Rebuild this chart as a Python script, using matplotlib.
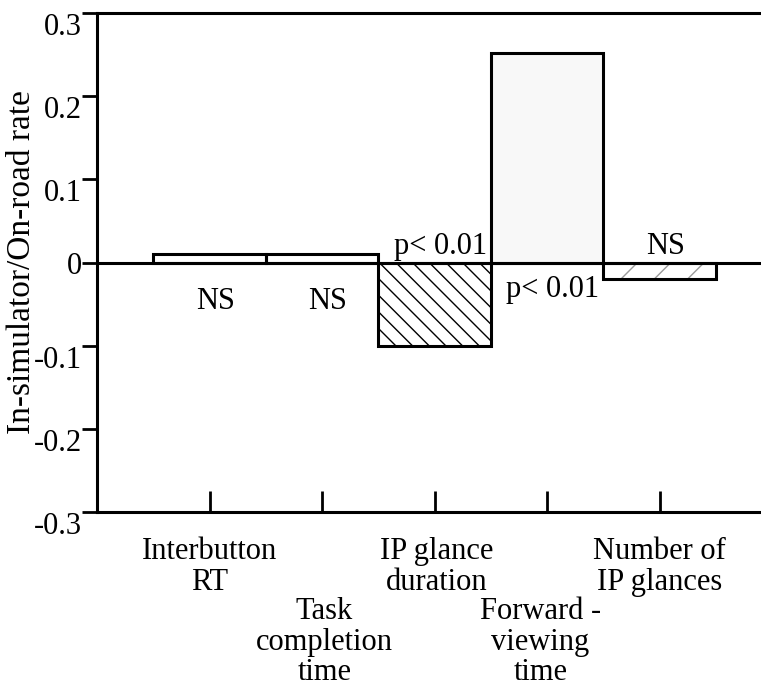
import matplotlib
matplotlib.use("Agg")
import matplotlib.pyplot as plt

plt.rcParams['font.family'] = ['Liberation Serif', 'DejaVu Serif']
plt.rcParams['hatch.linewidth'] = 1.0

# data
categories = ["Interbutton\nRT", "Task\ncompletion\ntime", "IP glance\nduration",
              "Forward -\nviewing\ntime", "Number of\nIP glances"]
rates = [0.01, 0.01, -0.10, 0.252, -0.02]
notes = ["NS", "NS", "p< 0.01", "p< 0.01", "NS"]
note_y = [-0.047, -0.047, 0.002, -0.033, 0.002]
note_va = ["center", "center", "bottom", "center", "bottom"]
y_ticks = [0.3, 0.2, 0.1, 0, -0.1, -0.2, -0.3]
y_tick_labels = ["0.3", "0.2", "0.1", "0", "-0.1", "-0.2", "-0.3"]

fills = ["white", "white", "white", "#f8f8f8", "white"]
hatches = [None, None, "\\\\", None, "/"]
hatch_cols = ["black", "black", "black", "black", "#9a9a9a"]
label_dx = [0, 0.02, 0.02, -0.06, 0]

fig = plt.figure(figsize=(7.61, 6.86), dpi=100)
ax = fig.add_axes([0.1275, 0.2536, 0.8725, 0.7274])

x = list(range(len(rates)))
lw = 2.2

# fills + hatch first, outlines on top
for i, v in enumerate(rates):
    ax.bar(i, v, width=1.0, color=fills[i], edgecolor=hatch_cols[i],
           hatch=hatches[i], linewidth=0, zorder=2)
ax.bar(x, rates, width=1.0, fill=False, edgecolor="black", linewidth=lw, zorder=3)
ax.axhline(0, color="black", linewidth=lw, zorder=4)

ax.set_xlim(-1, 4.9)
ax.set_ylim(-0.3, 0.3)

ax.spines['right'].set_visible(False)
for s in ['left', 'top', 'bottom']:
    ax.spines[s].set_linewidth(lw)

ax.set_yticks(y_ticks)
ax.set_yticklabels(y_tick_labels, fontsize=22)
ax.tick_params(axis='y', direction='out', length=11, width=2, pad=0)
for lbl in ax.get_yticklabels():
    if lbl.get_text() != "0":
        lbl.set_va('top')

ax.set_xticks(x)
ax.set_xticklabels([])
ax.tick_params(axis='x', direction='in', length=15, width=2)

for i, cat in enumerate(categories):
    drop = -18 if i % 2 == 0 else -61
    ax.annotate(cat, xy=(i + label_dx[i], 0), xycoords=('data', 'axes fraction'),
                xytext=(0, drop), textcoords='offset points',
                ha='center', va='top', fontsize=22, linespacing=1.08)

for i, t in enumerate(notes):
    ax.text(i + 0.05, note_y[i], t, ha='center', va=note_va[i], fontsize=22, zorder=5)

ax.set_ylabel("In-simulator/On-road rate", fontsize=24)
ax.yaxis.set_label_coords(-0.09, 0.5)

fig.savefig("out.png", dpi=100)
